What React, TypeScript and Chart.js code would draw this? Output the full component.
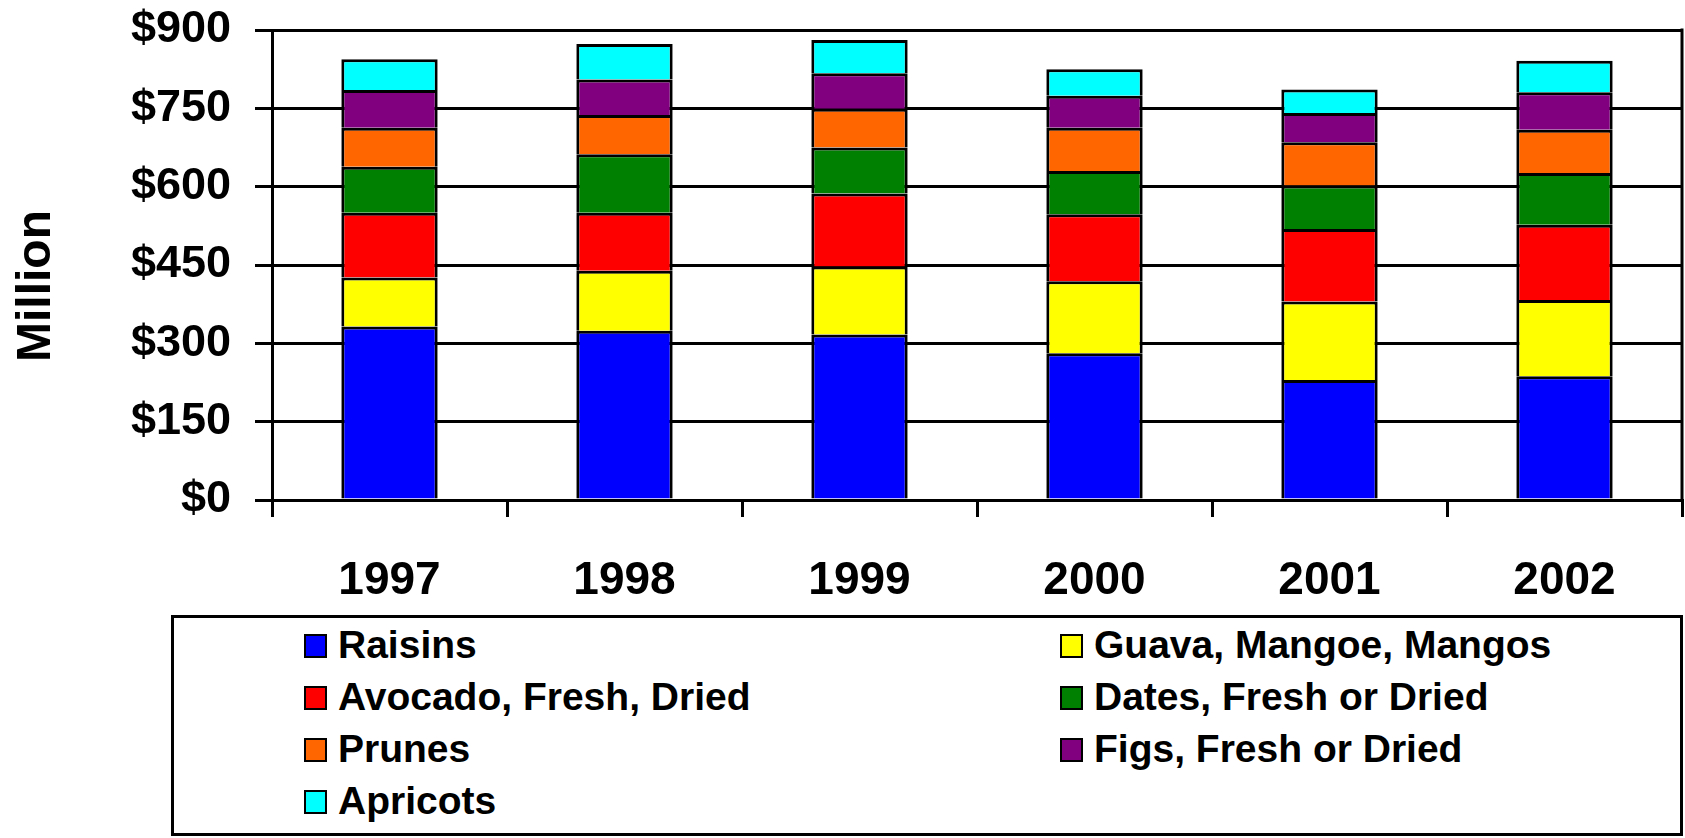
import React, { useEffect, useRef } from 'react';
import { Chart, registerables } from 'chart.js';

Chart.register(...registerables);

const years = ['1997', '1998', '1999', '2000', '2001', '2002'];
const raisins = [332, 324, 317, 281, 230, 237];
const guava = [94, 115, 130, 138, 150, 146];
const avocado = [124, 111, 140, 128, 139, 144];
const dates = [88, 112, 88, 83, 83, 99];
const prunes = [75, 75, 74, 83, 83, 83];
const figs = [72, 68, 68, 61, 56, 72];
const apricots = [59, 68, 64, 51, 45, 60];

const seriesNames = [
  'Raisins',
  'Guava, Mangoe, Mangos',
  'Avocado, Fresh, Dried',
  'Dates, Fresh or Dried',
  'Prunes',
  'Figs, Fresh or Dried',
  'Apricots',
];
const seriesValues = [raisins, guava, avocado, dates, prunes, figs, apricots];
const seriesColors = ['#0000FF', '#FFFF00', '#FF0000', '#008000', '#FF6600', '#800080', '#00FFFF'];

const yTicks = [0, 150, 300, 450, 600, 750, 900];
const yTitle = 'Million';

const FONT = '"Liberation Sans", Arial, Helvetica, sans-serif';

export default function App() {
  const ref = useRef<HTMLCanvasElement>(null);

  useEffect(() => {
    const frame = {
      id: 'frame',
      afterDraw(chart: any) {
        const { ctx, chartArea: a } = chart;
        ctx.save();
        ctx.strokeStyle = '#000';
        ctx.lineWidth = 3;
        ctx.beginPath();
        ctx.moveTo(a.right, a.top - 1.5);
        ctx.lineTo(a.right, a.bottom);
        ctx.stroke();
        ctx.translate(50, 286);
        ctx.rotate(-Math.PI / 2);
        ctx.font = `bold 48px ${FONT}`;
        ctx.fillStyle = '#000';
        ctx.textAlign = 'center';
        ctx.textBaseline = 'alphabetic';
        ctx.fillText(yTitle, 0, 0);
        ctx.restore();
      },
    };

    const chart = new Chart(ref.current!, {
      type: 'bar',
      data: {
        labels: years,
        datasets: seriesNames.map((name, i) => ({
          label: name,
          data: seriesValues[i],
          backgroundColor: seriesColors[i],
          borderColor: '#000',
          borderWidth: 3,
          borderSkipped: 'start',
          barPercentage: 0.41,
          categoryPercentage: 1,
        })),
      },
      options: {
        animation: false,
        responsive: false,
        maintainAspectRatio: false,
        layout: { padding: { left: 0, right: 3, top: 30, bottom: 0 } },
        plugins: { legend: { display: false }, tooltip: { enabled: false } },
        scales: {
          x: {
            stacked: true,
            grid: {
              display: true,
              drawOnChartArea: false,
              drawTicks: true,
              tickLength: 17,
              color: '#000',
              lineWidth: 3,
              offset: true,
            },
            border: { display: true, color: '#000', width: 3 },
            ticks: {
              color: '#000',
              font: { family: FONT, size: 46, weight: 'bold' },
              padding: 37,
              maxRotation: 0,
              autoSkip: false,
            },
            afterFit(s: any) {
              s.height = 110;
              s.paddingLeft = 0;
              s.paddingRight = 0;
            },
          },
          y: {
            stacked: true,
            min: yTicks[0],
            max: yTicks[yTicks.length - 1],
            afterBuildTicks(s: any) {
              s.ticks = yTicks.map((v) => ({ value: v }));
            },
            ticks: {
              color: '#000',
              font: { family: FONT, size: 45, weight: 'bold' },
              padding: 24,
              callback: (v: any) => '$' + v,
            },
            grid: { color: '#000', lineWidth: 3, tickLength: 17 },
            border: { display: true, color: '#000', width: 3 },
            afterFit(s: any) {
              s.width = 272;
              s.paddingTop = 0;
              s.paddingBottom = 0;
            },
          },
        },
      },
      plugins: [frame],
    } as any);
    return () => chart.destroy();
  }, []);

  const rows: number[][] = [];
  for (let i = 0; i < seriesNames.length; i += 2) {
    rows.push(i + 1 < seriesNames.length ? [i, i + 1] : [i]);
  }

  return (
    <div
      style={{
        position: 'absolute',
        left: 0,
        top: 0,
        width: 1685,
        height: 838,
        background: '#fff',
        fontFamily: FONT,
        overflow: 'hidden',
      }}
    >
      <canvas ref={ref} width={1685} height={610} style={{ display: 'block', position: 'absolute', left: 0, top: 0 }} />
      <div
        style={{
          position: 'absolute',
          left: 171,
          top: 615,
          width: 1512,
          height: 221,
          boxSizing: 'border-box',
          border: '3px solid #000',
          paddingTop: 1,
          paddingLeft: 130,
        }}
      >
        {rows.map((row, ri) => (
          <div key={ri} style={{ display: 'flex', height: 52 }}>
            {row.map((si) => (
              <div
                key={si}
                style={{
                  width: 756,
                  flexShrink: 0,
                  height: 52,
                  lineHeight: '52px',
                  fontSize: 39,
                  fontWeight: 'bold',
                  color: '#000',
                  whiteSpace: 'nowrap',
                }}
              >
                <span
                  style={{
                    display: 'inline-block',
                    width: 23,
                    height: 24,
                    boxSizing: 'border-box',
                    border: '2px solid #000',
                    background: seriesColors[si],
                    marginRight: 11,
                    verticalAlign: 'baseline',
                  }}
                />
                {seriesNames[si]}
              </div>
            ))}
          </div>
        ))}
      </div>
    </div>
  );
}
